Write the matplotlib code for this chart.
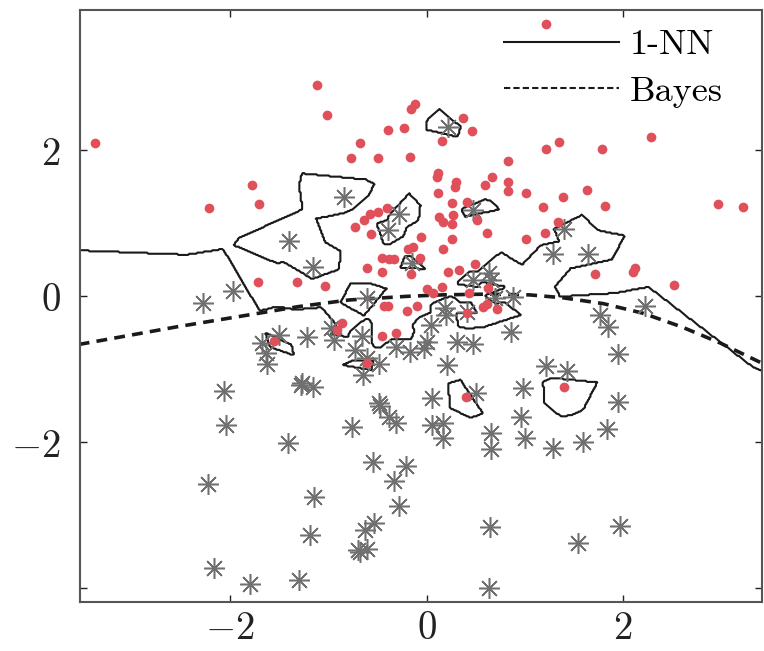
import numpy as np
import matplotlib
matplotlib.use("Agg")
import matplotlib.pyplot as plt
from matplotlib.lines import Line2D

plt.rcParams['mathtext.fontset'] = 'cm'

# clase 1 (puntos rojos)
rojo_x = [-3.37, -2.21, -1.78, -1.71, -1.11, -1.01, -0.16, -0.12, -0.39, -0.23,
          -0.68, -0.77, -0.49, -0.17, 0.37, 0.46, 0.16, 0.83, 0.12, 0.11,
          0.30, 0.29, 0.12, 0.60, 0.67, 0.83, 0.83, 1.01, 0.26, 0.41,
          -0.40, 1.22, 1.22, 1.35, 1.79, 2.28, 1.39, 1.63, 1.19, 1.82,
          2.97, 3.22, 1.34, 1.21, 1.01, 1.72, 2.10, 2.12, 2.52, 1.40,
          -1.72, -1.32, -1.55, -0.73, -0.64, -0.58, -0.49, -0.57, -0.06, -0.19,
          -0.14, -0.07, -0.45, -0.38, -0.33, -0.61, -0.45, -0.16, -1.03, 0.00,
          0.07, -0.43, -0.39, -0.10, -0.20, 0.17, 0.13, 0.17, 0.27, 0.26,
          0.51, 0.26, 0.62, 0.49, 0.22, 0.33, 0.16, 0.43, 0.63, 0.58,
          0.62, 0.72, 0.41, -0.86, -0.91, -0.45, -0.31, -0.61, 0.40]
rojo_y = [2.10, 1.21, 1.52, 1.27, 2.90, 2.48, 2.57, 2.63, 2.28, 2.31,
          2.10, 1.89, 1.90, 1.91, 2.45, 2.27, 2.13, 1.86, 1.69, 1.63,
          1.57, 1.50, 1.42, 1.52, 1.63, 1.57, 1.45, 1.42, 1.28, 1.30,
          1.21, 3.74, 2.02, 2.12, 2.02, 2.19, 1.36, 1.46, 1.23, 1.24,
          1.26, 1.23, 1.02, 0.87, 0.78, 0.31, 0.34, 0.39, 0.16, -1.24,
          0.19, 0.20, -0.61, 0.95, 1.04, 1.13, 1.15, 0.86, 0.82, 0.65,
          0.68, 0.53, 0.53, 0.51, 0.51, 0.39, 0.34, 0.31, 0.14, 0.10,
          0.05, -0.13, -0.13, -0.13, -0.20, 0.65, 1.09, 1.02, 1.12, 0.99,
          1.05, 0.79, 0.87, 0.45, 0.34, 0.36, 0.13, 0.05, 0.12, -0.14,
          -0.10, -0.17, -0.23, -0.36, -0.46, -0.54, -0.50, -0.91, -1.38]

# clase 0 (asteriscos grises)
gris_x = [0.22, -0.84, -1.40, -1.97, -2.28, -1.50, -1.67, -1.63, -1.62, -1.22,
          -1.28, -2.06, -1.16, -0.28, -0.39, 0.47, -0.61, -0.15, 0.47, 0.64,
          0.66, 0.88, 0.70, 0.19, 0.20, 0.41, 0.05, 0.31, 0.47, 0.86,
          0.21, 0.01, -0.03, -0.17, -0.31, -0.66, -0.73, -0.61, -0.48, -0.65,
          -0.94, -0.97, -1.27, -1.16, -0.48, 0.06, 0.50, 0.98, 1.40, 1.29,
          1.64, 2.22, 1.77, 1.85, 1.95, 1.22, 1.43, 1.95, -0.47, -0.38,
          -0.31, -0.76, 0.06, 0.17, 0.17, 0.66, 0.66, 0.96, 1.00, -0.54,
          -0.21, -0.33, -0.28, -1.15, -1.19, -0.53, -0.63, -0.70, -0.61, -0.68,
          0.65, 0.64, -1.30, -2.04, -1.41, -2.22, -2.16, -1.80, 1.29, 1.59,
          1.84, 1.97, 1.54]
gris_y = [2.32, 1.36, 0.76, 0.08, -0.09, -0.53, -0.64, -0.78, -0.93, -0.56,
          -1.21, -1.30, 0.40, 1.13, 0.91, 1.19, -0.02, 0.46, 0.23, 0.32,
          0.23, -0.01, -0.02, -0.16, -0.25, -0.22, -0.39, -0.62, -0.65, -0.49,
          -0.94, -0.62, -0.71, -0.76, -0.69, -0.55, -0.73, -0.84, -0.93, -1.08,
          -0.60, -0.43, -1.19, -1.24, -1.46, -1.39, -1.33, -1.26, 0.93, 0.58,
          0.58, -0.13, -0.25, -0.42, -0.79, -0.95, -1.03, -1.45, -1.50, -1.65,
          -1.74, -1.79, -1.76, -1.74, -1.94, -1.87, -2.09, -1.65, -1.94, -2.27,
          -2.33, -2.53, -2.87, -2.75, -3.27, -3.11, -3.20, -3.48, -3.46, -3.50,
          -3.16, -4.00, -3.89, -1.76, -2.01, -2.57, -3.72, -3.95, -2.08, -2.00,
          -1.82, -3.15, -3.38]

# frontera de Bayes
bayes_x = [-3.54, -2.55, -1.70, -1.30, -0.79, -0.20, 0.16, 0.60, 1.05, 1.39,
           1.80, 2.20, 2.60, 2.99, 3.42]
bayes_y = [-0.66, -0.42, -0.23, -0.14, -0.05, 0.00, 0.02, 0.03, 0.02, -0.02,
           -0.10, -0.23, -0.42, -0.64, -0.92]

xmin, xmax = -3.527, 3.415
ymin, ymax = -4.19, 3.926

fig = plt.figure(figsize=(7.64, 6.51), dpi=100)
ax = fig.add_axes([0.1047, 0.0753, 0.8927, 0.9094])

# frontera 1-NN calculada con el vecino mas cercano
X = np.array(rojo_x + gris_x)
Y = np.array(rojo_y + gris_y)
clase = np.array([1] * len(rojo_x) + [0] * len(gris_x))
gx, gy = np.meshgrid(np.linspace(xmin, xmax, 500), np.linspace(ymin, ymax, 500))
d = (gx[..., None] - X) ** 2 + (gy[..., None] - Y) ** 2
Z = clase[np.argmin(d, axis=2)]
ax.contour(gx, gy, Z, levels=[0.5], colors='#1a1a1a', linewidths=1.5)

ax.plot(bayes_x, bayes_y, color='#1a1a1a', lw=2.6, ls=(0, (3, 2)))

ax.plot(gris_x, gris_y, ls='none', marker=(8, 2, 0), ms=15, mew=1.1,
        color='#707070')
ax.plot(rojo_x, rojo_y, ls='none', marker='o', ms=7, mew=0,
        color='#e0505a')

ax.set_xlim(xmin, xmax)
ax.set_ylim(ymin, ymax)
ax.set_xticks([-2, 0, 2])
ax.set_xticklabels(['$-2$', '$0$', '$2$'])
ax.set_yticks([-4, -2, 0, 2])
ax.set_yticklabels(['', '$-2$', '$0$', '$2$'])
ax.tick_params(direction='in', length=5, width=1, top=True, right=True,
               labelsize=28, colors='#222222')
ax.tick_params(axis='x', pad=5)
ax.tick_params(axis='y', pad=14)
for s in ax.spines.values():
    s.set_color('#555555')
    s.set_linewidth(1.5)

handles = [Line2D([], [], color='#1a1a1a', lw=1.5),
           Line2D([], [], color='#1a1a1a', lw=1.5, ls=(0, (3, 1.5)))]
ax.legend(handles, ['1-NN', 'Bayes'], loc='upper right', frameon=False,
          bbox_to_anchor=(0.943, 0.968), borderpad=0, borderaxespad=0,
          handlelength=3.2, prop={'family': 'cmr10', 'size': 26},
          labelspacing=0.4, handletextpad=0.3)

plt.savefig('out.png', dpi=100)
